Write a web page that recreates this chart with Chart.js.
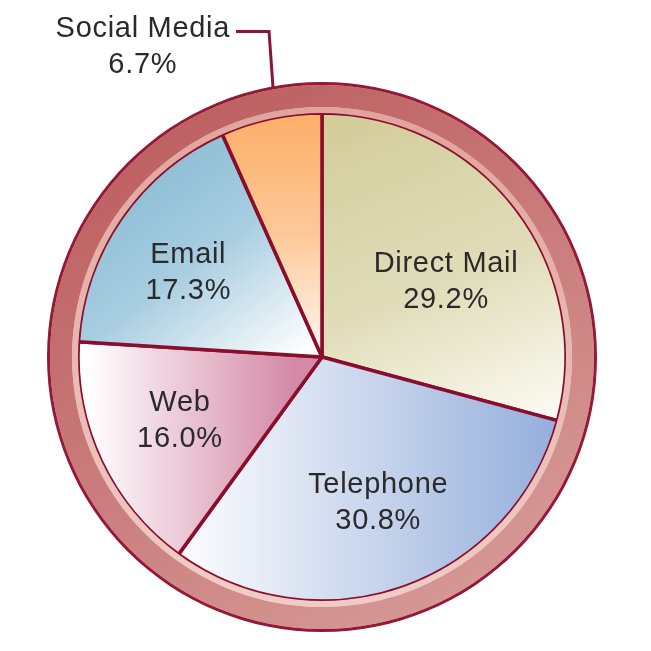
<!DOCTYPE html>
<html><head><meta charset="utf-8">
<script src="https://cdn.jsdelivr.net/npm/chart.js@4.4.1/dist/chart.umd.min.js"></script>
<style>html,body{margin:0;padding:0;background:#fff;}#wrap{width:651px;height:651px;}</style>
</head><body><div id="wrap"><canvas id="c" width="651" height="651"></canvas></div>
<script>
const categories = ['Direct Mail', 'Telephone', 'Web', 'Email', 'Social Media'];
const shares = [29.2, 30.8, 16.0, 17.3, 6.7];
const shareLabels = ['29.2%', '30.8%', '16.0%', '17.3%', '6.7%'];

const RING = 275;      // outer radius in px
const PIE_R = 244;

function center(chart) {
  const a = chart.chartArea;
  return {cx: (a.left + a.right) / 2, cy: (a.top + a.bottom) / 2};
}
function lin(chart, x0, y0, x1, y1, stops) {
  const {cx, cy} = center(chart);
  const g = chart.ctx.createLinearGradient(cx + x0, cy + y0, cx + x1, cy + y1);
  stops.forEach(s => g.addColorStop(s[0], s[1]));
  return g;
}
const sliceFills = [
  ch => lin(ch, 40, -PIE_R, 170, 80, [[0, '#d3cd9b'], [0.55, '#e1ddba'], [1, '#fbfaf1']]),
  ch => lin(ch, -150, 0, 240, 0, [[0, '#ffffff'], [1, '#93addb']]),
  ch => lin(ch, -235, 0, -30, 0, [[0, '#ffffff'], [1, '#d48aa7']]),
  ch => lin(ch, -180, -230, -15, -5, [[0, '#84b9d3'], [0.5, '#a7cde0'], [1, '#ffffff']]),
  ch => lin(ch, 0, -PIE_R, 0, -5, [[0, '#fcae68'], [0.5, '#fdc898'], [1, '#fff6ee']])
];
const fallback = ['#ddd9b4', '#c3d2ec', '#e2b3c5', '#a7cde0', '#fdc898'];

function sliceBg(ctx) {
  const ch = ctx.chart;
  if (!ch.chartArea) return fallback[ctx.dataIndex];
  return sliceFills[ctx.dataIndex](ch);
}
function rosyBg(ctx) {
  const ch = ctx.chart;
  if (!ch.chartArea) return '#c66c6c';
  return lin(ch, -150, -260, 150, 260, [[0, '#bd5e60'], [1, '#d69a96']]);
}
function lightBg(ctx) {
  const ch = ctx.chart;
  if (!ch.chartArea) return '#e8b3ab';
  return lin(ch, 0, -250, 0, 250, [[0, '#e0a49c'], [1, '#efcdc6']]);
}

// label nudges (degrees / px from centre) – style only
const labelNudge = [
  {da: 5.6, r: 146}, {da: -1.9, r: 154.5}, {da: 1.6, r: 155}, {da: -2.0, r: 159}, null
];

const labelPlugin = {
  id: 'sliceLabels',
  afterDatasetsDraw(chart) {
    const ctx = chart.ctx;
    const meta = chart.getDatasetMeta(3);
    ctx.save();
    ctx.fillStyle = '#2a2a2a';
    ctx.font = '29px "Liberation Sans", Arial, sans-serif';
    ctx.textAlign = 'center';
    ctx.textBaseline = 'alphabetic';
    try { ctx.letterSpacing = '0.7px'; } catch (e) {}
    meta.data.forEach((arc, i) => {
      const p = arc.getProps(['x', 'y', 'startAngle', 'endAngle', 'outerRadius'], true);
      const mid = (p.startAngle + p.endAngle) / 2;
      const nud = labelNudge[i];
      if (nud) {
        const a = mid + nud.da * Math.PI / 180;
        const lx = p.x + nud.r * Math.cos(a);
        const ly = p.y + nud.r * Math.sin(a);
        ctx.fillText(categories[i], lx, ly - 8);
        ctx.fillText(shareLabels[i], lx, ly + 28);
      } else {
        // leader line from outer ring
        const a = mid + 1.8 * Math.PI / 180;
        const ex = p.x + RING * Math.cos(a);
        const ey = p.y + RING * Math.sin(a) + 1;
        const kx = ex - 4, ky = ey - 56;
        const sx = kx - 33;
        ctx.save();
        ctx.strokeStyle = '#8c1434';
        ctx.lineWidth = 3;
        ctx.lineJoin = 'miter';
        ctx.beginPath();
        ctx.moveTo(sx, ky);
        ctx.lineTo(kx, ky);
        ctx.lineTo(ex, ey);
        ctx.stroke();
        ctx.restore();
        const w = ctx.measureText(categories[i]).width;
        const tcx = sx - 6 - w / 2;
        ctx.fillText(categories[i], tcx, ky + 6);
        ctx.fillText(shareLabels[i], tcx, ky + 42);
      }
    });
    ctx.restore();
  }
};

new Chart(document.getElementById('c'), {
  type: 'doughnut',
  data: {
    labels: categories,
    datasets: [
      {data: [1], backgroundColor: '#951836', borderWidth: 0, weight: 3},
      {data: [1], backgroundColor: rosyBg, borderWidth: 0, weight: 22},
      {data: [1], backgroundColor: lightBg, borderWidth: 0, weight: 6},
      {data: shares, backgroundColor: sliceBg, borderColor: '#8b0d2d', borderWidth: 3.5, weight: PIE_R}
    ]
  },
  options: {
    responsive: false,
    devicePixelRatio: 1,
    animation: false,
    events: [],
    cutout: 0,
    radius: RING,
    layout: {padding: {left: 0, right: 7, top: 63, bottom: 0}},
    plugins: {legend: {display: false}, tooltip: {enabled: false}},
    hoverOffset: 0
  },
  plugins: [labelPlugin]
});
</script>
</body></html>
